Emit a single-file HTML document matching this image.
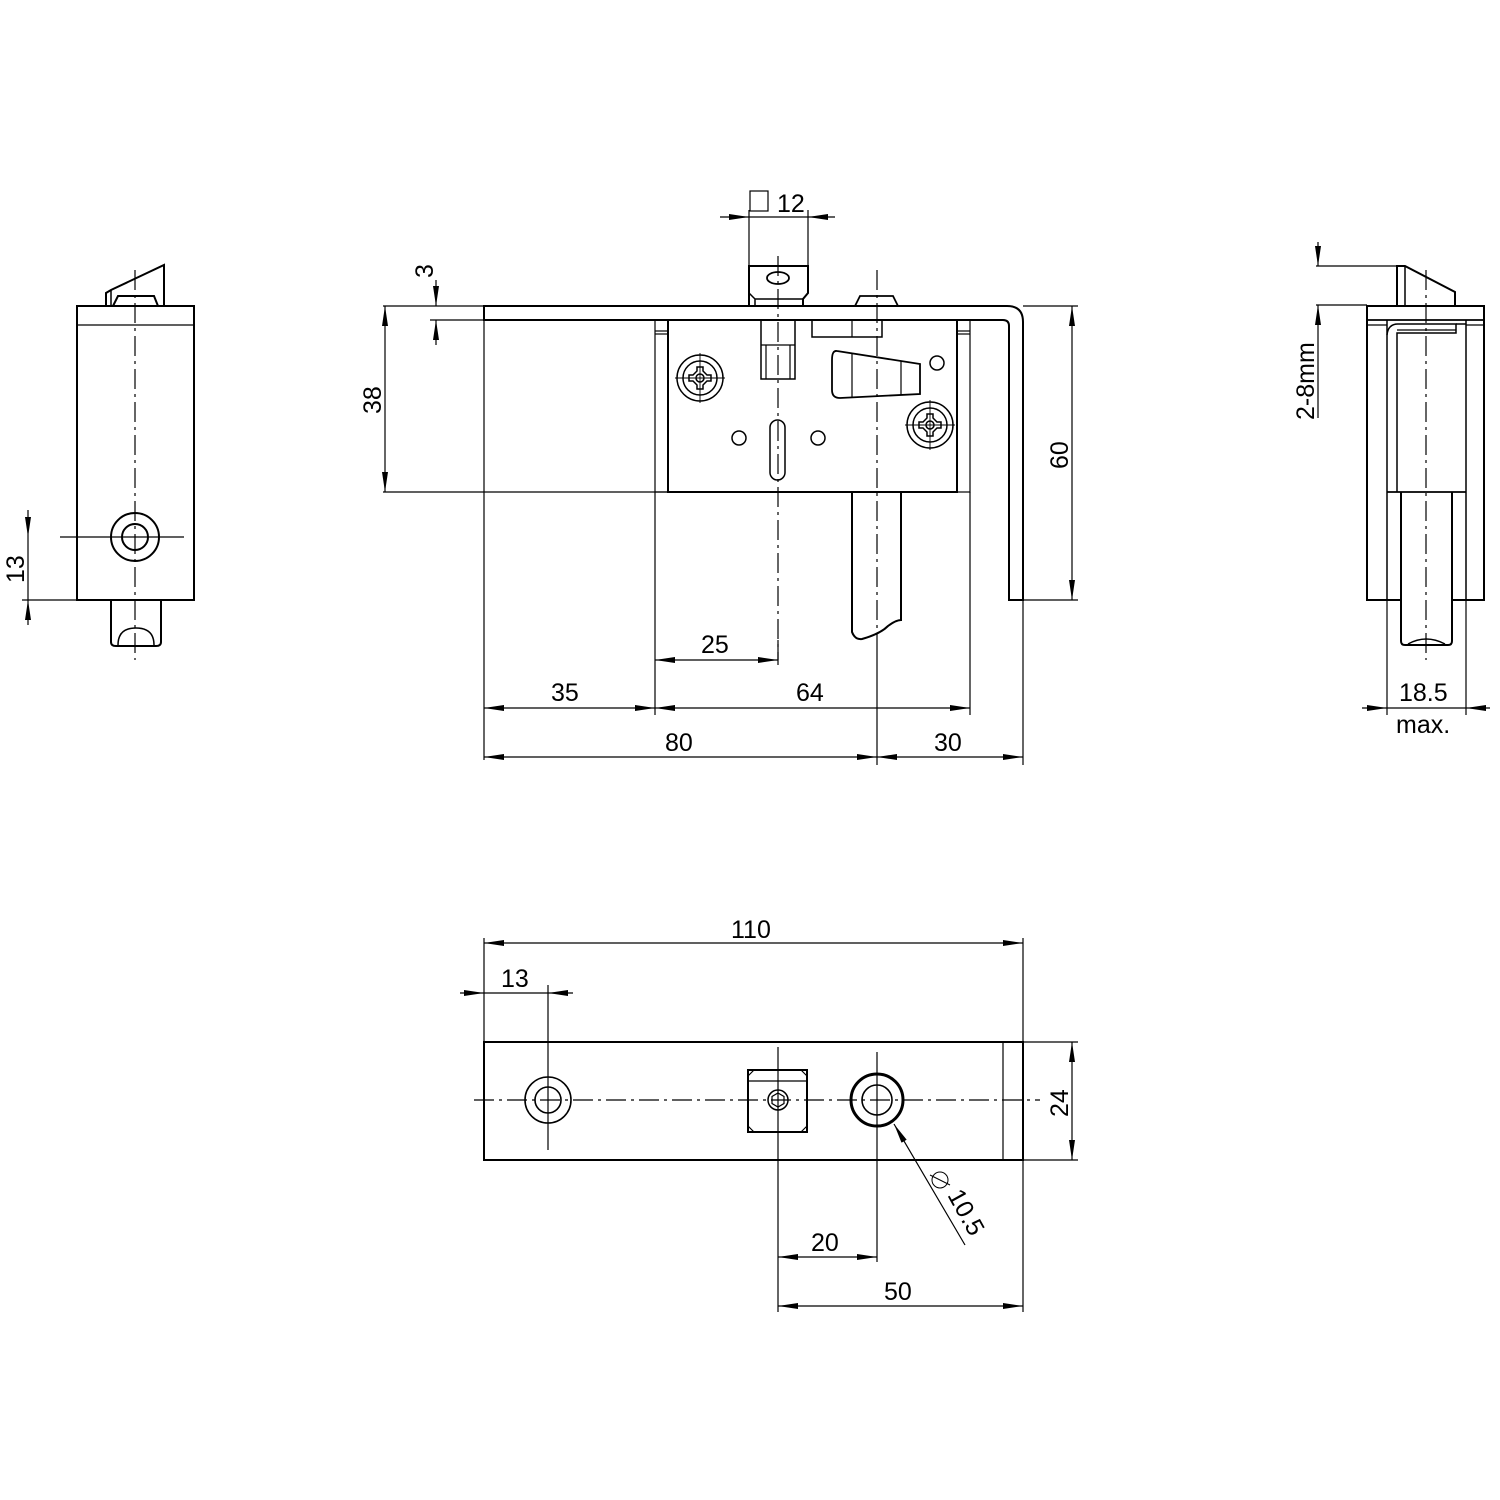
<!DOCTYPE html>
<html><head><meta charset="utf-8"><style>
html,body{margin:0;padding:0;background:#fff}
svg{display:block}
text{font-family:"Liberation Sans",Arial,sans-serif;font-size:25px;fill:#000}
</style></head><body>
<svg width="1500" height="1500" viewBox="0 0 1500 1500" xmlns="http://www.w3.org/2000/svg">
<defs>
<marker id="a" viewBox="0 0 20 8" refX="20" refY="4" markerWidth="20" markerHeight="8" markerUnits="userSpaceOnUse" orient="auto-start-reverse"><path d="M0,1 L20,4 L0,7 Z" fill="#000"/></marker>
</defs>
<g fill="none" stroke="#000" stroke-width="1.2">
<!-- ========== LEFT VIEW ========== -->
<rect x="77" y="306" width="117" height="294" stroke-width="2"/>
<line x1="77" y1="325" x2="194" y2="325"/>
<path d="M106,306 V293 L111,290 L164,265 V306" stroke-width="2"/>
<path d="M113,306 L118,296 H154 L158,306" stroke-width="2"/>
<line x1="111" y1="290" x2="111" y2="306" stroke-width="1.5"/>
<circle cx="135" cy="537" r="24" stroke-width="2"/>
<circle cx="135" cy="537" r="13" stroke-width="2"/>
<line x1="60" y1="537" x2="184" y2="537"/>
<line x1="135" y1="270" x2="135" y2="660" stroke-dasharray="20,5,3,5"/>
<path d="M111,600 V642 Q111,646 116,646 H156 Q161,646 161,642 V600" stroke-width="2"/>
<path d="M118,645 Q118,628 136,628 Q154,628 154,645" stroke-width="1.5"/>
<line x1="22" y1="600" x2="77" y2="600"/>
<line x1="28" y1="510" x2="28" y2="537" marker-end="url(#a)"/>
<line x1="28" y1="625" x2="28" y2="600" marker-end="url(#a)"/>
<line x1="28" y1="537" x2="28" y2="600"/>

<!-- ========== MAIN VIEW ========== -->
<path d="M484,306 H1007 Q1023,306 1023,322 V600 H1009 V326 Q1009,320 1003,320 H484 Z" stroke-width="2"/>
<line x1="484" y1="320" x2="484" y2="760"/>
<line x1="484" y1="492" x2="668" y2="492"/>
<rect x="668" y="320" width="289" height="172" stroke-width="2"/>
<rect x="655" y="320" width="13" height="172"/>
<rect x="957" y="320" width="13" height="172"/>
<line x1="655" y1="331" x2="668" y2="331"/><line x1="655" y1="334" x2="668" y2="334"/>
<line x1="957" y1="331" x2="970" y2="331"/><line x1="957" y1="334" x2="970" y2="334"/>
<line x1="655" y1="492" x2="655" y2="715"/>
<line x1="970" y1="492" x2="970" y2="715"/>
<line x1="383" y1="306" x2="484" y2="306"/>
<line x1="383" y1="492" x2="484" y2="492"/>
<line x1="1023" y1="306" x2="1078" y2="306"/>
<line x1="1023" y1="600" x2="1078" y2="600"/>
<line x1="1023" y1="600" x2="1023" y2="765"/>
<path d="M749,305 V266 H808 V293 L803,299 V305" stroke-width="2"/>
<path d="M749,293 L755,299 V305 M755,299 H803" stroke-width="1.5"/>
<ellipse cx="778" cy="278" rx="11" ry="6" stroke-width="1.8"/>
<line x1="749" y1="266" x2="749" y2="210"/>
<line x1="808" y1="266" x2="808" y2="210"/>
<rect x="761" y="320" width="34" height="59" stroke-width="1.5"/>
<line x1="761" y1="345" x2="795" y2="345"/>
<line x1="766" y1="345" x2="766" y2="379"/><line x1="790" y1="345" x2="790" y2="379"/>
<path d="M855,306 L860,296 H893 L898,306" stroke-width="1.8"/>
<rect x="812" y="320" width="70" height="17" stroke-width="1.5"/>
<line x1="852" y1="320" x2="852" y2="337"/>
<path d="M837,351 L920,364 V394 L840,398 Q832,398 832,390 V360 Q832,350 837,351 Z" stroke-width="1.8"/>
<line x1="852" y1="354" x2="852" y2="397"/>
<line x1="901" y1="361" x2="901" y2="395"/>
<circle cx="937" cy="363" r="7" stroke-width="1.5"/>
<g transform="translate(700,378)" stroke-width="1.5">
<circle r="23"/><circle r="17"/>
<line x1="-25" y1="0" x2="25" y2="0" stroke-width="0.9"/><line x1="0" y1="-25" x2="0" y2="25" stroke-width="0.9"/>
<path d="M-3,-11 H3 V-7 L7,-3 H11 V3 H7 L3,7 V11 H-3 V7 L-7,3 H-11 V-3 H-7 L-3,-7 Z"/>
<circle r="4"/>
</g>
<g transform="translate(930,425)" stroke-width="1.5">
<circle r="23"/><circle r="17"/>
<line x1="-25" y1="0" x2="25" y2="0" stroke-width="0.9"/><line x1="0" y1="-25" x2="0" y2="25" stroke-width="0.9"/>
<path d="M-3,-11 H3 V-7 L7,-3 H11 V3 H7 L3,7 V11 H-3 V7 L-7,3 H-11 V-3 H-7 L-3,-7 Z"/>
<circle r="4"/>
</g>
<circle cx="739" cy="438" r="7" stroke-width="1.5"/>
<circle cx="818" cy="438" r="7" stroke-width="1.5"/>
<rect x="770" y="420" width="15" height="60" rx="7.5" stroke-width="1.5"/>
<path d="M852,492 V632 Q855,640 862,639 Q880,634 888,626 Q896,620 901,620 V492" stroke-width="2"/>
<line x1="778" y1="256" x2="778" y2="660" stroke-dasharray="20,5,3,5"/>
<line x1="877" y1="270" x2="877" y2="640" stroke-dasharray="20,5,3,5"/>
<line x1="877" y1="640" x2="877" y2="765"/>
<line x1="778" y1="640" x2="778" y2="665"/>
<line x1="720" y1="217" x2="749" y2="217" marker-end="url(#a)"/>
<line x1="835" y1="217" x2="808" y2="217" marker-end="url(#a)"/>
<line x1="749" y1="217" x2="808" y2="217"/>
<rect x="750" y="191" width="18" height="20"/>
<line x1="436" y1="280" x2="436" y2="306" marker-end="url(#a)"/>
<line x1="436" y1="345" x2="436" y2="320" marker-end="url(#a)"/>
<line x1="430" y1="320" x2="484" y2="320"/>
<line x1="385" y1="306" x2="385" y2="492" marker-start="url(#a)" marker-end="url(#a)"/>
<line x1="1072" y1="306" x2="1072" y2="600" marker-start="url(#a)" marker-end="url(#a)"/>
<line x1="655" y1="660" x2="778" y2="660" marker-start="url(#a)" marker-end="url(#a)"/>
<line x1="484" y1="708" x2="655" y2="708" marker-start="url(#a)" marker-end="url(#a)"/>
<line x1="655" y1="708" x2="970" y2="708" marker-start="url(#a)" marker-end="url(#a)"/>
<line x1="484" y1="757" x2="877" y2="757" marker-start="url(#a)" marker-end="url(#a)"/>
<line x1="877" y1="757" x2="1023" y2="757" marker-start="url(#a)" marker-end="url(#a)"/>

<!-- ========== RIGHT VIEW ========== -->
<path d="M1401,600 H1367 V306 H1484 V600 H1452" stroke-width="2"/>
<line x1="1367" y1="320" x2="1484" y2="320" stroke-width="1.8"/>
<line x1="1367" y1="325" x2="1387" y2="325"/>
<line x1="1466" y1="325" x2="1484" y2="325"/>
<line x1="1387" y1="320" x2="1387" y2="600" stroke-width="1.5"/>
<line x1="1466" y1="320" x2="1466" y2="600" stroke-width="1.5"/>
<line x1="1387" y1="492" x2="1466" y2="492" stroke-width="1.8"/>
<path d="M1387,335 Q1388,324 1398,324 H1456 V333 H1397 V492" stroke-width="1.5"/>
<line x1="1456" y1="324" x2="1466" y2="324" stroke-width="1.5"/>
<line x1="1397" y1="330" x2="1456" y2="330"/>
<path d="M1401,492 V641 Q1401,645 1405,645 H1448 Q1452,645 1452,641 V492" stroke-width="2"/>
<path d="M1408,644 Q1426,634 1445,644" stroke-width="1.5"/>
<path d="M1397,306 V266 H1405 L1455,292 V306" stroke-width="2"/>
<line x1="1405" y1="266" x2="1405" y2="306" stroke-width="1.5"/>
<line x1="1426" y1="270" x2="1426" y2="660" stroke-dasharray="20,5,3,5"/>
<line x1="1387" y1="600" x2="1387" y2="715"/>
<line x1="1466" y1="600" x2="1466" y2="715"/>
<line x1="1316" y1="266" x2="1397" y2="266"/>
<line x1="1316" y1="305" x2="1367" y2="305"/>
<line x1="1318" y1="242" x2="1318" y2="266" marker-end="url(#a)"/>
<line x1="1318" y1="330" x2="1318" y2="305" marker-end="url(#a)"/>
<line x1="1318" y1="330" x2="1318" y2="418"/>
<line x1="1362" y1="708" x2="1387" y2="708" marker-end="url(#a)"/>
<line x1="1490" y1="708" x2="1466" y2="708" marker-end="url(#a)"/>
<line x1="1387" y1="708" x2="1466" y2="708"/>

<!-- ========== BOTTOM VIEW ========== -->
<rect x="484" y="1042" width="539" height="118" stroke-width="2"/>
<line x1="1003" y1="1042" x2="1003" y2="1160"/>
<line x1="484" y1="1042" x2="484" y2="938"/>
<line x1="1023" y1="1042" x2="1023" y2="938"/>
<line x1="1023" y1="1160" x2="1023" y2="1312"/>
<line x1="1023" y1="1042" x2="1078" y2="1042"/>
<line x1="1023" y1="1160" x2="1078" y2="1160"/>
<line x1="474" y1="1100" x2="1040" y2="1100" stroke-dasharray="20,5,3,5"/>
<circle cx="548" cy="1100" r="23" stroke-width="1.6"/>
<circle cx="548" cy="1100" r="13" stroke-width="1.6"/>
<line x1="548" y1="985" x2="548" y2="1150"/>
<rect x="748" y="1070" width="59" height="62" stroke-width="2"/>
<line x1="748" y1="1081" x2="807" y2="1081"/>
<path d="M748,1076 L754,1070 M807,1076 L801,1070 M748,1126 L754,1132 M807,1126 L801,1132"/>
<circle cx="778" cy="1100" r="10" stroke-width="1.5"/>
<path d="M778,1093 L784,1096.5 V1103.5 L778,1107 L772,1103.5 V1096.5 Z"/>
<line x1="778" y1="1047" x2="778" y2="1312"/>
<circle cx="877" cy="1100" r="26" stroke-width="3"/>
<circle cx="877" cy="1100" r="15" stroke-width="1.6"/>
<line x1="877" y1="1052" x2="877" y2="1262"/>
<line x1="965" y1="1245" x2="894" y2="1124" marker-end="url(#a)"/>
<circle cx="940" cy="1180" r="8" stroke-width="1"/>
<line x1="930" y1="1175" x2="950" y2="1185" stroke-width="1"/>
<line x1="484" y1="943" x2="1023" y2="943" marker-start="url(#a)" marker-end="url(#a)"/>
<line x1="460" y1="993" x2="484" y2="993" marker-end="url(#a)"/>
<line x1="573" y1="993" x2="548" y2="993" marker-end="url(#a)"/>
<line x1="484" y1="993" x2="548" y2="993"/>
<line x1="1072" y1="1042" x2="1072" y2="1160" marker-start="url(#a)" marker-end="url(#a)"/>
<line x1="778" y1="1257" x2="877" y2="1257" marker-start="url(#a)" marker-end="url(#a)"/>
<line x1="778" y1="1306" x2="1023" y2="1306" marker-start="url(#a)" marker-end="url(#a)"/>
</g>
<text x="777" y="212">12</text>
<text transform="translate(433,278) rotate(-90)">3</text>
<text transform="translate(381,414) rotate(-90)">38</text>
<text transform="translate(1068,469) rotate(-90)">60</text>
<text x="701" y="653">25</text>
<text x="551" y="701">35</text>
<text x="796" y="701">64</text>
<text x="665" y="751">80</text>
<text x="934" y="751">30</text>
<text transform="translate(24,583) rotate(-90)">13</text>
<text transform="translate(1314,420) rotate(-90)">2-8mm</text>
<text x="1399" y="701">18.5</text>
<text x="1396" y="733">max.</text>
<text x="731" y="938">110</text>
<text x="501" y="987">13</text>
<text transform="translate(1068,1117) rotate(-90)">24</text>
<text x="811" y="1251">20</text>
<text x="884" y="1300">50</text>
<text transform="translate(947,1195) rotate(61)">10.5</text>
</svg>
</body></html>
